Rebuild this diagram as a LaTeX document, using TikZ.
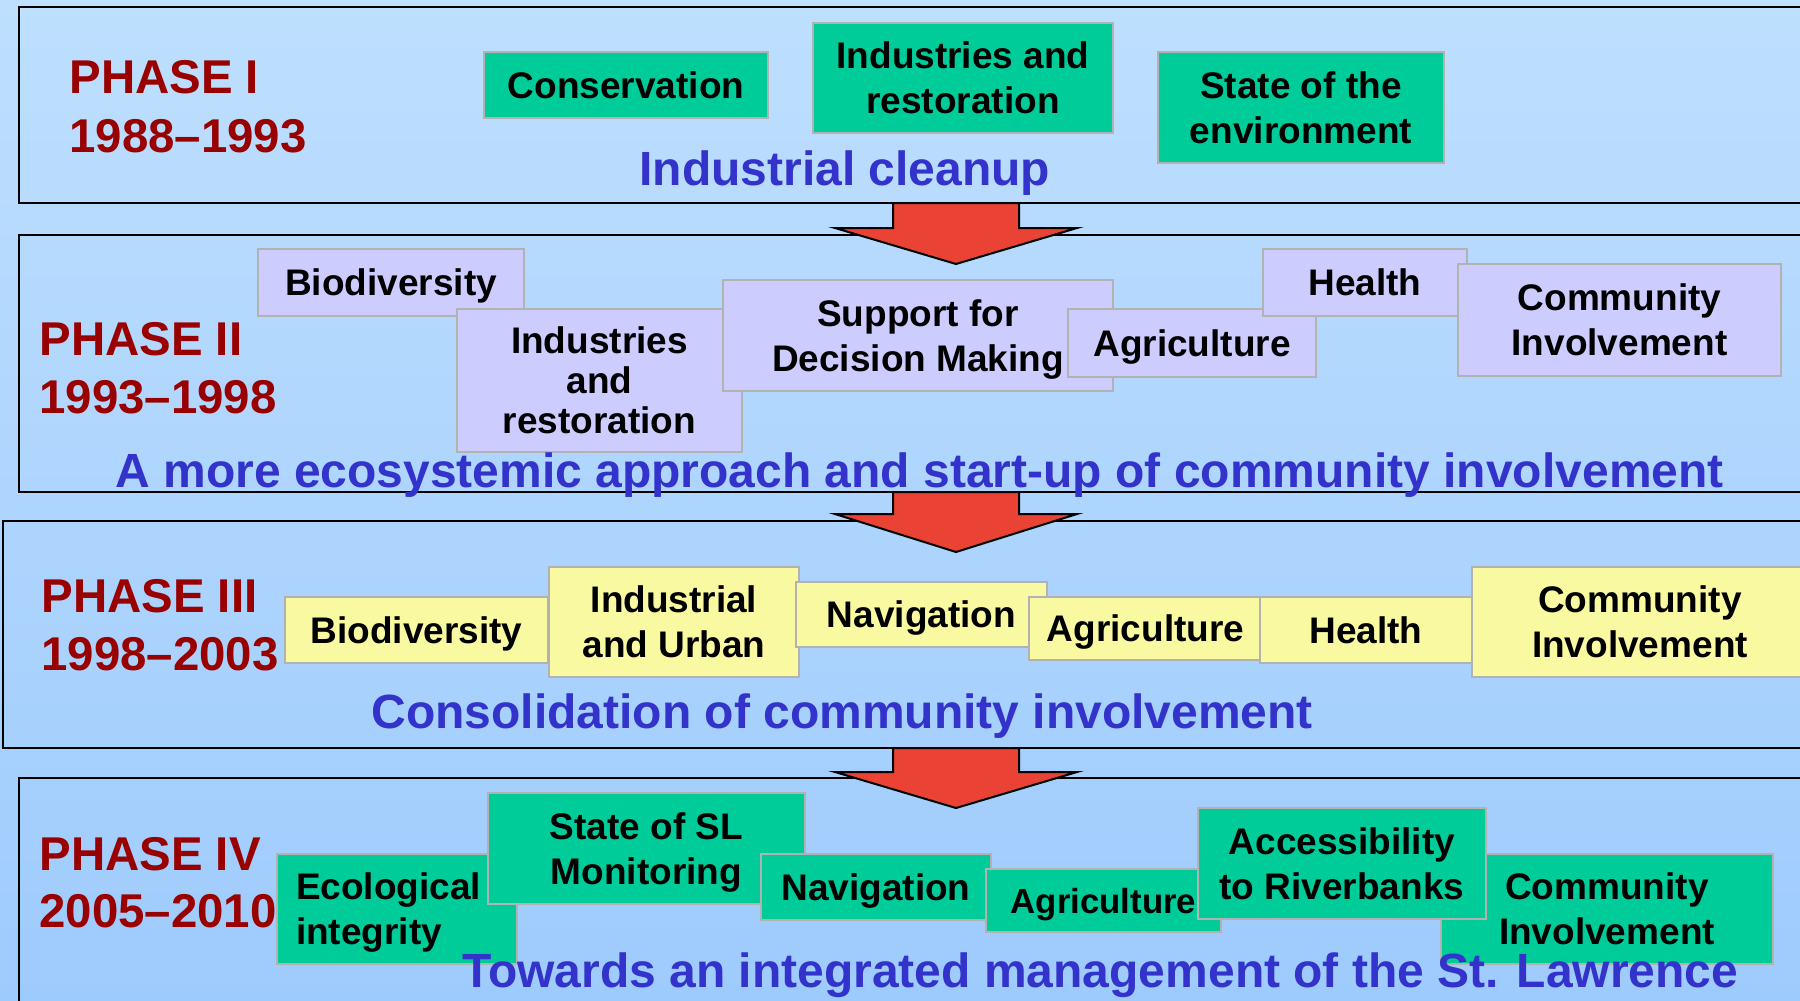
\documentclass[tikz,border=0pt]{standalone}
\usepackage{fontspec}
\setmainfont{Liberation Sans}
\usepackage{xcolor}
\definecolor{bgtop}{HTML}{BEDFFE}
\definecolor{bgbot}{HTML}{9ECBFD}
\definecolor{phasered}{HTML}{990000}
\definecolor{themeblue}{HTML}{3333CC}
\definecolor{itemgreen}{HTML}{00CC99}
\definecolor{itemlilac}{HTML}{CCCCFF}
\definecolor{itemyellow}{HTML}{F8F9A0}
\definecolor{itemedge}{HTML}{B2B2B2}
\definecolor{arrowred}{HTML}{EA4335}
\usepackage{tikz}

\begin{document}
\begin{tikzpicture}[
    x=0.5pt, y=-0.5pt,
    font=\bfseries,
    frame/.style={draw=black, line width=1.25pt, minimum width=895.5pt, inner sep=0pt},
    item/.style={draw=itemedge, line width=1.1pt, inner sep=2pt, text depth=0pt, align=center, font=\bfseries\fontsize{18.5}{22.5}\selectfont},
    greenbox/.style={item, fill=itemgreen},
    lilacbox/.style={item, fill=itemlilac},
    yellowbox/.style={item, fill=itemyellow},
    phase/.style={text=phasered, anchor=base west, inner sep=0pt, font=\bfseries\fontsize{23.7}{28}\selectfont},
    theme/.style={text=themeblue, anchor=base west, inner sep=0pt, font=\bfseries\fontsize{24}{28}\selectfont},
    bigarrow/.style={draw=black, line width=1pt, fill=arrowred, line join=miter}
]

% ── Background ──
\useasboundingbox (0,0) rectangle (1800,1001);
\fill[top color=bgtop, bottom color=bgbot] (0,0) rectangle (1800,1001);

% ── Phase Frames ──
\node[frame, minimum height=98pt] (bx1) at (914.5,105) {};
\node[frame, minimum height=128.5pt] (bx2) at (914.5,363.5) {};
\node[frame, minimum width=903.5pt, minimum height=113.5pt] (bx3) at (906.5,634.5) {};
\node[frame, minimum height=121pt] (bx4) at (914.5,899) {};

% ── Down Arrows ──
\coordinate (a1) at (956,203);
\coordinate (a2) at (956,492);
\coordinate (a3) at (956,748);
\draw[bigarrow] (a1) ++(-63,0) -- ++(126,0) -- ++(0,25) -- ++(58,0) -- ++(-121,36) -- ++(-121,-36) -- ++(58,0) -- cycle;
\draw[bigarrow] (a2) ++(-63,0) -- ++(126,0) -- ++(0,22) -- ++(58,0) -- ++(-121,38) -- ++(-121,-38) -- ++(58,0) -- cycle;
\draw[bigarrow] (a3) ++(-63,0) -- ++(126,0) -- ++(0,24) -- ++(58,0) -- ++(-121,36) -- ++(-121,-36) -- ++(58,0) -- cycle;

% ── Phase I ──
\node[greenbox, minimum width=142pt, minimum height=33pt] (cons1) at (626,85) {Conservation};
\node[greenbox, minimum width=150pt, minimum height=55pt] (ind1) at (963,78) {Industries and\\restoration};
\node[greenbox, minimum width=143pt, minimum height=55.5pt] (env1) at (1301,107.5) {State of the\\environment};

% ── Phase II ──
\node[lilacbox, minimum width=133pt, minimum height=33.5pt] (bio2) at (391,282.5) {Biodiversity};
\node[lilacbox, minimum width=142.5pt, minimum height=71.5pt, font=\bfseries\fontsize{18.5}{20}\selectfont] (ind2) at (599.5,380.5) {Industries\\and\\restoration};
\node[lilacbox, minimum width=195pt, minimum height=55.5pt] (dec2) at (918,335.5) {Support for\\Decision Making};
\node[lilacbox, minimum width=124pt, minimum height=34pt] (agr2) at (1192,343) {Agriculture};
\node[lilacbox, minimum width=102pt, minimum height=33.5pt] (hea2) at (1365,282.5) {Health};
\node[lilacbox, minimum width=161.5pt, minimum height=56pt] (com2) at (1619.5,320) {Community\\Involvement};

% ── Phase III ──
\node[yellowbox, minimum width=131.5pt, minimum height=33pt] (bio3) at (416.5,630) {Biodiversity};
\node[yellowbox, minimum width=125pt, minimum height=55pt] (ind3) at (674,622) {Industrial\\and Urban};
\node[yellowbox, minimum width=125.5pt, minimum height=32.5pt] (nav3) at (921.5,614.5) {Navigation};
\node[yellowbox, minimum width=116.5pt, minimum height=31.5pt] (agr3) at (1145.5,628.5) {Agriculture};
\node[yellowbox, minimum width=106pt, minimum height=33pt] (hea3) at (1366,630) {Health};
\node[yellowbox, minimum width=168pt, minimum height=55pt] (com3) at (1640,622) {Community\\Involvement};

% ── Phase IV ──
\node[greenbox, minimum width=120pt, minimum height=55pt, inner xsep=9.5pt, text width=101pt, text depth=22.5pt, align=left] (eco4) at (397,909) {Ecological\\integrity};
\node[greenbox, minimum width=158.5pt, minimum height=55.5pt] (sta4) at (646.5,848.5) {State of SL\\Monitoring};
\node[greenbox, minimum width=115pt, minimum height=33pt] (nav4) at (876,887) {Navigation};
\node[greenbox, minimum width=117.5pt, minimum height=31.5pt, font=\bfseries\fontsize{17.4}{21}\selectfont] (agr4) at (1103.5,900.5) {Agriculture};
\node[greenbox, minimum width=166pt, minimum height=55pt] (com4) at (1607,909) {Community\\Involvement};
\node[greenbox, minimum width=144pt, minimum height=55.5pt] (acc4) at (1342,863.5) {Accessibility\\to Riverbanks};

% ── Phase Labels ──
\node[phase] (ph1) at (69,93) {PHASE I};
\node[phase] (yr1) at (69,152) {1988--1993};
\node[phase] (ph2) at (39,355) {PHASE II};
\node[phase] (yr2) at (39,413) {1993--1998};
\node[phase] (ph3) at (41,612) {PHASE III};
\node[phase] (yr3) at (41,670) {1998--2003};
\node[phase] (ph4) at (39,870) {PHASE IV};
\node[phase] (yr4) at (39,927) {2005--2010};

% ── Themes ──
\node[theme] (th1) at (639,185) {Industrial cleanup};
\node[theme] (th2) at (115,487) {A more ecosystemic approach and start-up of community involvement};
\node[theme] (th3) at (371,728) {Consolidation of community involvement};
\node[theme] (th4) at (462,987) {Towards an integrated management of the St. Lawrence};

\end{tikzpicture}
\end{document}
